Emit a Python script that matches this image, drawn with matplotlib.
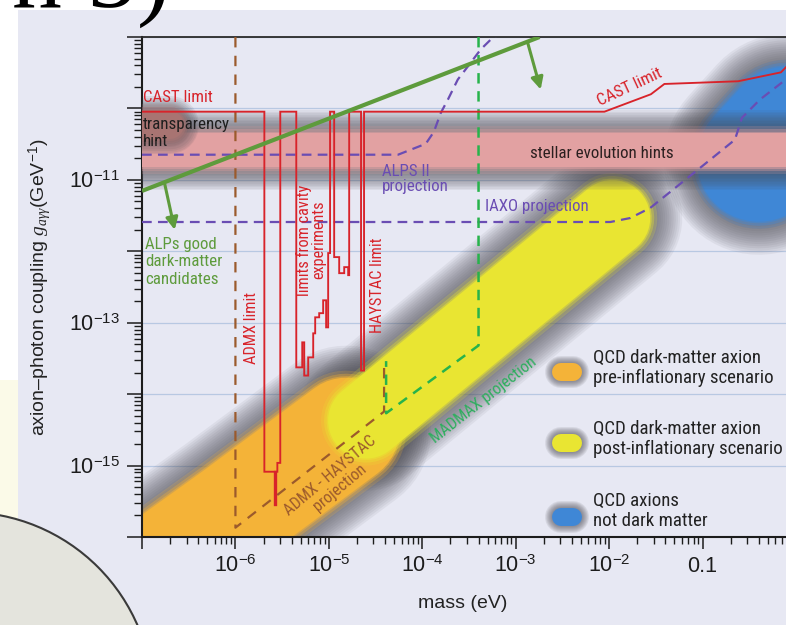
import numpy as np
import matplotlib
matplotlib.use('Agg')
import matplotlib.pyplot as plt
from matplotlib import font_manager as fm
from matplotlib.patches import Rectangle, Ellipse
from matplotlib.ticker import LogLocator, NullFormatter

# ---------------- data (mass in eV, coupling in GeV^-1) ----------------
cast_mass = [1e-7, 2.04e-6, 2.04e-6, 2.81e-6, 2.81e-6, 3.02e-6, 3.02e-6, 4.48e-6, 4.48e-6,
             5.19e-6, 5.19e-6, 5.45e-6, 5.45e-6, 6.01e-6, 6.01e-6, 6.80e-6, 6.80e-6,
             7.14e-6, 7.14e-6, 7.88e-6, 7.88e-6, 8.69e-6, 8.69e-6, 9.35e-6, 9.35e-6,
             9.83e-6, 9.83e-6, 1.03e-5, 1.03e-5, 1.14e-5, 1.14e-5, 1.29e-5, 1.29e-5,
             1.46e-5, 1.46e-5, 1.61e-5, 1.61e-5, 1.65e-5, 1.65e-5, 2.21e-5, 2.21e-5,
             2.38e-5, 2.38e-5, 8.9e-3, 2.8e-2, 3.9e-2, 0.24, 0.69, 0.89, 2.0]
cast_g = [9e-11, 9e-11, 8.2e-16, 8.2e-16, 1.09e-15, 1.09e-15, 9e-11, 9e-11, 2.37e-14,
          2.37e-14, 5.31e-14, 5.31e-14, 1.82e-14, 1.82e-14, 3.27e-14, 3.27e-14, 7.1e-14,
          7.1e-14, 1.19e-13, 1.19e-13, 1.36e-13, 1.36e-13, 2.06e-13, 2.06e-13, 8.61e-14,
          8.61e-14, 9.44e-13, 9.44e-13, 9e-11, 9e-11, 8.29e-13, 8.29e-13, 4.94e-13,
          4.94e-13, 6.0e-13, 6.0e-13, 4.63e-13, 4.63e-13, 9e-11, 9e-11, 2.14e-14,
          2.14e-14, 9e-11, 9e-11, 1.58e-10, 2.2e-10, 2.4e-10, 3.2e-10, 4.5e-10, 1.2e-9]
admx_deep_mass = [2.65e-6, 2.65e-6]
admx_deep_g = [8.2e-16, 2.9e-16]

alps_dm_mass = [1e-7, 1.8e-3]
alps_dm_g = [7.0e-12, 1.0e-9]
arrow_mass = [(1.74e-7, 2.24e-7), (1.34e-3, 1.85e-3)]
arrow_g = [(9.1e-12, 2.0e-12), (8.4e-10, 1.84e-10)]

alps2_mass = [1e-7, 5.5e-5, 1.09e-4, 1.33e-4, 1.58e-4, 1.88e-4, 2.40e-4, 3.07e-4, 4.22e-4, 5.4e-4, 7.8e-4]
alps2_g = [2.25e-11, 2.25e-11, 3.2e-11, 4.7e-11, 8.7e-11, 1.33e-10, 2.54e-10, 3.86e-10, 6.7e-10, 9.2e-10, 1.28e-9]

iaxo_mass = [1e-7, 1.03e-2, 1.68e-2, 2.75e-2, 9.4e-2, 0.222, 0.264, 0.411, 0.778, 1.40]
iaxo_g = [2.57e-12, 2.57e-12, 2.92e-12, 4.04e-12, 1.47e-11, 3.65e-11, 7.4e-11, 1.33e-10, 2.54e-10, 4.5e-10]

admx_haystac_mass = [1e-6, 1e-6, 3.9e-5, 3.9e-5]
admx_haystac_g = [1e-9, 1.35e-16, 5.7e-15, 2.7e-14]

madmax_mass = [4.0e-4, 4.0e-4, 4.1e-5, 4.1e-5]
madmax_g = [1e-9, 4.8e-14, 5.4e-15, 2.9e-14]

qcd_pre_mass = [2.9e-8, 1e-6, 1.53e-5]
qcd_pre_g = [7.8e-18, 2.17e-16, 3.08e-15]
qcd_post_mass = [2.5e-5, 1.08e-2]
qcd_post_g = [4.26e-15, 2.92e-12]
qcd_nodm_mass = [0.40, 3.75]
qcd_nodm_g = [1.91e-11, 4.84e-10]
stellar_mass = [1e-8, 10.0]
stellar_g = [2.64e-11, 2.64e-11]
transp_mass = [5e-8, 1.98e-7]
transp_g = [5.9e-11, 5.9e-11]

x_ticks = [1e-7, 1e-6, 1e-5, 1e-4, 1e-3, 1e-2, 1e-1, 1.0]
x_labels = ['', r'$10^{-6}$', r'$10^{-5}$', r'$10^{-4}$', r'$10^{-3}$', r'$10^{-2}$', '0.1', '']
y_ticks = [1e-16, 1e-15, 1e-14, 1e-13, 1e-12, 1e-11, 1e-10, 1e-9]
y_labels = ['', r'$10^{-15}$', '', r'$10^{-13}$', '', r'$10^{-11}$', '', '']

legend_labels = ['QCD dark-matter axion\npre-inflationary scenario',
                 'QCD dark-matter axion\npost-inflationary scenario',
                 'QCD axions\nnot dark matter']

# ---------------- style ----------------
W, H = 786, 625
PX = 72 / 100.0

plt.rcParams['mathtext.fontset'] = 'custom'
plt.rcParams['mathtext.rm'] = 'Liberation Sans'
plt.rcParams['mathtext.it'] = 'Liberation Serif:italic'
plt.rcParams['mathtext.bf'] = 'Liberation Sans:bold'
plt.rcParams['font.family'] = ['Liberation Sans', 'DejaVu Sans']
plt.rcParams['lines.scale_dashes'] = False

# pick a narrow / condensed sans for the annotations if one is installed
names = {f.name for f in fm.fontManager.ttflist}
FONT = None
for cand in ['Liberation Sans Narrow', 'Roboto Condensed', 'Open Sans Condensed',
             'Noto Sans Condensed', 'DejaVu Sans Condensed', 'Arial Narrow']:
    if cand in names:
        FONT = dict(family=cand)
        break
if FONT is None:
    for f in fm.fontManager.ttflist:
        if (f.stretch in ('condensed', 'semi-condensed', 'extra-condensed')
                and f.style == 'normal' and str(f.weight) in ('400', 'normal', 'regular')):
            FONT = dict(family=f.name, fontstretch=f.stretch)
            break
if FONT is None:
    FONT = dict(family='Liberation Sans')

BG = '#e7e8f3'
RED = '#d8232a'
PURPLE = '#6a4db3'
BROWN = '#9b5a2c'
GREEN = '#5e9b3c'
MGREEN = '#27b34b'
ORANGE = '#f4b338'
YELLOW = '#e9e532'
BLUE = '#3f87d6'
PINK = '#e2a1a2'
HALO = '#4e4e56'

fig = plt.figure(figsize=(W / 100, H / 100), dpi=100, facecolor='white')

# width-match the annotation font to the reference (stellar evolution hints ~ 143 px at 13 pt)
_r = fig.canvas.get_renderer()
_t = fig.text(0, 0, 'stellar evolution hints', fontsize=13, **FONT)
_w = _t.get_window_extent(renderer=_r).width
_t.remove()
NS = min(1.0, 143.0 / _w)

fig.add_artist(Rectangle((18 / W, 0), 1 - 18 / W, 1 - 10 / H, transform=fig.transFigure,
                         facecolor=BG, edgecolor='none', zorder=-10))
fig.add_artist(Rectangle((0, 0), 18 / W, 1 - 380 / H, transform=fig.transFigure,
                         facecolor='#fbfae8', edgecolor='none', zorder=-9))

ax = fig.add_axes([142 / W, 1 - 537 / H, (796 - 142) / W, 500 / H])
ax.set_facecolor(BG)
ax.set_xscale('log')
ax.set_yscale('log')


def halo(m, g, w, spread=30, n=14, alpha=0.075, z=1, **kw):
    for i in range(n):
        lw = (w + 2 * spread * (1 - i / n)) * PX
        ax.plot(m, g, color=HALO, lw=lw, alpha=alpha, solid_capstyle='round',
                solid_joinstyle='round', zorder=z, **kw)


def core(m, g, w, color, z=2, **kw):
    for extra, a in ((14, 0.2), (8, 0.35), (3, 0.5)):
        ax.plot(m, g, color=color, lw=(w + extra) * PX, alpha=a, solid_capstyle='round',
                solid_joinstyle='round', zorder=z, **kw)
    ax.plot(m, g, color=color, lw=w * PX, solid_capstyle='round',
            solid_joinstyle='round', zorder=z, **kw)


# QCD axion band
halo(qcd_pre_mass, qcd_pre_g, 110, z=1)
halo(qcd_post_mass, qcd_post_g, 80, z=1)
halo(qcd_nodm_mass, qcd_nodm_g, 130, z=1)
core(qcd_pre_mass, qcd_pre_g, 106, ORANGE, z=2)
core(qcd_post_mass, qcd_post_g, 76, YELLOW, z=2.1)
core(qcd_nodm_mass, qcd_nodm_g, 124, BLUE, z=2.2)
# stellar evolution hints
halo(stellar_mass, stellar_g, 36, spread=22, z=3)
core(stellar_mass, stellar_g, 34, PINK, z=3.5)
# transparency hint
halo(transp_mass, transp_g, 30, spread=14, n=8, alpha=0.1, z=4)
core(transp_mass, transp_g, 28, '#a87472', z=4.5)

# limits
ax.plot(cast_mass, cast_g, color=RED, lw=1.35, zorder=7, solid_joinstyle='miter')
ax.plot(admx_deep_mass, admx_deep_g, color=RED, lw=2.4, zorder=7)
ax.plot(alps2_mass, alps2_g, color=PURPLE, lw=1.6, dashes=(7, 4.5), zorder=6)
ax.plot(iaxo_mass, iaxo_g, color=PURPLE, lw=1.6, dashes=(7, 4.5), zorder=6)
ax.plot(admx_haystac_mass, admx_haystac_g, color=BROWN, lw=1.6, dashes=(7.5, 6), zorder=6)
ax.plot(madmax_mass, madmax_g, color=MGREEN, lw=1.8, dashes=(7.5, 5.5), zorder=6.5)
ax.plot(alps_dm_mass, alps_dm_g, color=GREEN, lw=3.0, zorder=8, solid_capstyle='butt')
for (m0, m1), (g0, g1) in zip(arrow_mass, arrow_g):
    ax.annotate('', xy=(m1, g1), xytext=(m0, g0),
                arrowprops=dict(arrowstyle='-|>', color=GREEN, lw=2.2, mutation_scale=18,
                                shrinkA=0, shrinkB=0), zorder=8)

ax.set_xlim(1e-7, 1.0)
ax.set_ylim(1e-16, 1e-9)
ax.set_xticks(x_ticks)
ax.set_xticklabels(x_labels)
ax.set_yticks(y_ticks)
ax.set_yticklabels(y_labels)
ax.xaxis.set_minor_locator(LogLocator(base=10, subs=np.arange(2, 10), numticks=20))
ax.yaxis.set_minor_locator(LogLocator(base=10, subs=np.arange(2, 10), numticks=20))
ax.xaxis.set_minor_formatter(NullFormatter())
ax.yaxis.set_minor_formatter(NullFormatter())
ax.tick_params(axis='both', which='both', direction='out', colors='#1c1c1c')
ax.tick_params(axis='x', which='major', length=12 * PX, width=1.1, pad=5, labelsize=15.5)
ax.tick_params(axis='x', which='minor', length=7 * PX, width=1.0)
ax.tick_params(axis='y', which='major', length=15 * PX, width=1.1, pad=5, labelsize=15.5)
ax.tick_params(axis='y', which='minor', length=8 * PX, width=1.0)
ax.tick_params(top=False, right=False, which='both')
ax.set_axisbelow(True)
ax.yaxis.grid(True, which='major', color='#b8c8e2', lw=0.9)
for s in ('left', 'bottom'):
    ax.spines[s].set_linewidth(1.5)
    ax.spines[s].set_color('#1c1c1c')
ax.spines['top'].set_linewidth(1.3)
ax.spines['top'].set_color('#2a2a2a')
ax.spines['right'].set_visible(False)

ax.set_xlabel('mass (eV)', fontsize=14, color='#222222')
ax.xaxis.set_label_coords((463 - 142) / 654, (537 - 603) / 500)
ax.xaxis.label.set_va('center')
ax.set_ylabel(r'axion–photon coupling $g_{a\gamma\gamma}$(GeV$^{-1}$)', fontsize=14, color='#222222')
ax.yaxis.set_label_coords((40 - 142) / 654, 0.5)
ax.yaxis.label.set_va('center')
ax.yaxis.label.set_ha('center')


def T(x, y, s, size=13, color='#1e1e1e', **kw):
    fig.text(x / W, 1 - y / H, s, fontsize=size * NS, color=color, zorder=12, **FONT, **kw)


T(143, 97, 'CAST limit', color=RED, ha='left', va='center')
T(630, 87, 'CAST limit', color=RED, ha='center', va='center', rotation=25)
T(143, 133, 'transparency\nhint', ha='left', va='center')
T(602, 153, 'stellar evolution hints', color='#2a1f1f', ha='center', va='center')
T(382, 179, 'ALPS II\nprojection', color=PURPLE, ha='left', va='center', linespacing=1.05)
T(485, 207, 'IAXO projection', color=PURPLE, ha='left', va='center')
T(145, 262, 'ALPs good\ndark-matter\ncandidates', color=GREEN, ha='left', va='center')
T(252, 328, 'ADMX limit', color=RED, ha='center', va='center', rotation=90, size=12.5)
T(311, 240, 'limits from cavity\nexperiments', color=RED, ha='center', va='center',
  rotation=90, size=12.5, linespacing=1.0, multialignment='center')
T(377, 285, 'HAYSTAC limit', color=RED, ha='center', va='center', rotation=90, size=12.5)
T(335, 482, 'ADMX - HAYSTAC\nprojection', color=BROWN, ha='center', va='center', rotation=40,
  size=12.5, linespacing=1.05, multialignment='center')
T(484, 400, 'MADMAX projection', color='#2fae5f', ha='center', va='center', rotation=38, size=12.5)

# legend
sw_y = [372, 443, 517]
sw_colors = [ORANGE, YELLOW, BLUE]
txt_y = [368, 439, 511]
for yy, col, ty, lab in zip(sw_y, sw_colors, txt_y, legend_labels):
    xs = [561 / W, 573 / W]
    ys = [1 - yy / H, 1 - yy / H]
    for i in range(7):
        ax.plot(xs, ys, transform=fig.transFigure, color=HALO, alpha=0.11,
                lw=(18 + 2 * 7 * (1 - i / 7)) * PX, solid_capstyle='round', clip_on=False, zorder=11)
    ax.plot(xs, ys, transform=fig.transFigure, color=col, lw=18 * PX,
            solid_capstyle='round', clip_on=False, zorder=11.5)
    T(593, ty, lab, size=14.5, color='#222222', ha='left', va='center')

# slide decorations
fig.add_artist(Ellipse((-35 / W, 1 - 700 / H), 2 * 188 / W, 2 * 188 / H, transform=fig.transFigure,
                       facecolor='#e4e4dd', edgecolor='#3a3a3a', lw=1.5, zorder=5))
fig.text(170 / W, 1 - 7 / H, 'n 5)', fontsize=72, family='Liberation Serif', ha='right',
         va='baseline', color='black', zorder=6)

fig.savefig('out.png', dpi=100)
